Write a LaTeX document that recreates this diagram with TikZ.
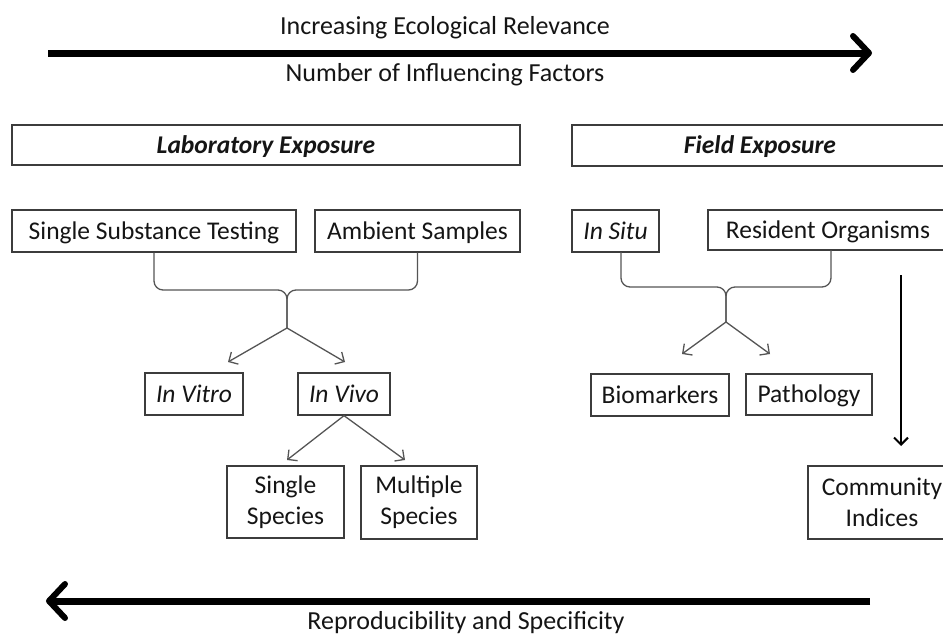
\documentclass[tikz,border=0pt]{standalone}
\usepackage{fontspec}
\setmainfont{Carlito}
\usetikzlibrary{arrows.meta}
\definecolor{boxgray}{HTML}{3C3C3C}
\definecolor{conngray}{HTML}{555555}
\definecolor{txt}{HTML}{151515}
\begin{document}
\begin{tikzpicture}[x=1pt,y=-1pt,
  box/.style={draw=boxgray, line width=1.3pt, inner sep=0pt, align=center,
    text=txt, font=\fontsize{25.5}{31}\selectfont},
  one/.style={text height=22pt, text depth=5.6pt},
  lbl/.style={inner sep=0pt, text=txt, font=\fontsize{26}{30}\selectfont},
  conn/.style={draw=conngray, line width=1.3pt, rounded corners=9pt},
  carrow/.style={draw=conngray, line width=1.3pt, -{Straight Barb[length=7pt,width=14pt]}},
  bigarrow/.style={line width=7pt, -{Straight Barb[length=16pt,width=34pt,line width=6pt,round]}}
]
\useasboundingbox (0,0) rectangle (943,637);
\fill[white] (0,0) rectangle (943,637);

% top and bottom arrows with labels
\node[lbl] (rel) at (445,28) {Increasing Ecological Relevance};
\node[lbl] (fac) at (445,75) {Number of Influencing Factors};
\node[lbl, anchor=base] (rep) at (466,629) {Reproducibility and Specificity};
\coordinate (ta) at (48,53);
\coordinate (tb) at (872,53);
\coordinate (ba) at (870,601);
\coordinate (bb) at (46,601);
\draw[bigarrow] (ta) -- (tb);
\draw[bigarrow] (ba) -- (bb);

% headers
\node[box, one, minimum width=508pt, minimum height=40pt] (lab) at (266,145) {\bfseries\itshape Laboratory Exposure};
\node[box, one, minimum width=376pt, minimum height=41pt] (field) at (760,145.5) {\bfseries\itshape Field Exposure};

% second row
\node[box, one, minimum width=284pt, minimum height=42pt] (sst) at (154,231) {Single Substance Testing};
\node[box, one, minimum width=205pt, minimum height=42pt] (amb) at (417.5,231) {Ambient Samples};
\node[box, one, minimum width=87pt, minimum height=42pt] (insitu) at (615.5,231) {\itshape In Situ};
\node[box, one, minimum width=240pt, minimum height=40pt] (res) at (828,230) {Resident Organisms};

% third row
\node[box, one, minimum width=98pt, minimum height=42pt] (invitro) at (194,394) {\itshape In Vitro};
\node[box, one, minimum width=92pt, minimum height=42pt] (invivo) at (344,394) {\itshape In Vivo};
\node[box, one, minimum width=138pt, minimum height=42pt] (bio) at (660,395) {Biomarkers};
\node[box, one, minimum width=126pt, minimum height=41pt] (path) at (809,394.5) {Pathology};

% fourth row
\node[box, minimum width=117pt, minimum height=72pt] (single) at (285.5,502) {Single\\Species};
\node[box, minimum width=116pt, minimum height=73pt] (multi) at (419,502.5) {Multiple\\Species};
\node[box, minimum width=148pt, minimum height=73pt] (comm) at (882,502.5) {Community\\Indices};

% left brace
\coordinate (lmid) at (287,290);
\coordinate (lsplit) at (287,328);
\draw[conn] (sst.south) -- (sst.south |- lmid) -- (lmid) -- (lsplit);
\draw[conn] (amb.south) -- (amb.south |- lmid) -- (lmid) -- (lsplit);
\coordinate (lvt) at (228,362);
\coordinate (lvv) at (345,362);
\draw[carrow] (lsplit) -- (lvt);
\draw[carrow] (lsplit) -- (lvv);

% in vivo split
\coordinate (ss) at (287,460);
\coordinate (ms) at (405,460);
\draw[carrow] (invivo.south) -- (ss);
\draw[carrow] (invivo.south) -- (ms);

% right brace
\coordinate (rmid) at (726,287);
\coordinate (rsplit) at (726,322);
\coordinate (rs1) at (621,252);
\coordinate (rs2) at (831,250);
\draw[conn] (rs1) -- (rs1 |- rmid) -- (rmid) -- (rsplit);
\draw[conn] (rs2) -- (rs2 |- rmid) -- (rmid) -- (rsplit);
\coordinate (rb) at (682,354);
\coordinate (rp) at (770,354);
\draw[carrow] (rsplit) -- (rb);
\draw[carrow] (rsplit) -- (rp);

% vertical arrow to community indices
\coordinate (va) at (901,275);
\coordinate (vb) at (901,446);
\draw[line width=2pt, -{Straight Barb[length=7pt,width=14pt]}] (va) -- (vb);
\end{tikzpicture}
\end{document}
